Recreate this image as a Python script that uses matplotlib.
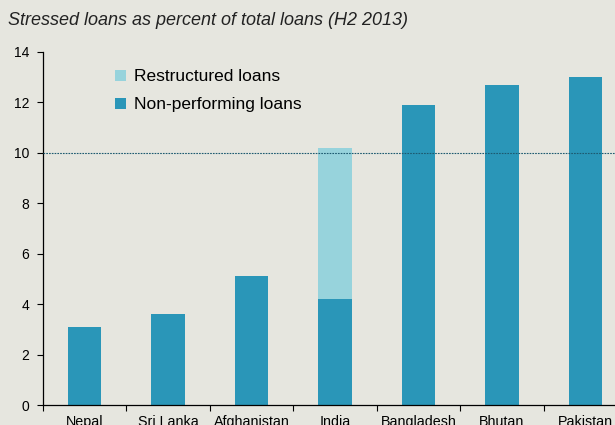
import numpy as np
import matplotlib.pyplot as plt

plt.rcParams['font.family'] = ['Liberation Sans', 'DejaVu Sans']

countries = ["Nepal", "Sri Lanka", "Afghanistan", "India", "Bangladesh", "Bhutan", "Pakistan"]
npl = [3.1, 3.6, 5.1, 4.2, 11.9, 12.7, 13.0]
restructured = [0, 0, 0, 6.0, 0, 0, 0]
threshold = 10

bg = "#e6e6df"
c_npl = "#2a96b8"
c_rest = "#97d3dc"

fig = plt.figure(figsize=(6.15, 4.25), dpi=100, facecolor=bg)
ax = fig.add_axes([0.0699, 0.047, 0.95, 0.831], facecolor=bg)

x = np.arange(len(countries))
ax.bar(x, npl, width=0.4, color=c_npl, label="Non-performing loans", zorder=2)
ax.bar(x, restructured, width=0.4, bottom=npl, color=c_rest, label="Restructured loans", zorder=2)
ax.axhline(threshold, color="#1d5a70", lw=0.8, ls=(0, (1.5, 1)), zorder=3)

ax.set_xlim(-0.5, 6.5)
ax.set_ylim(0, 14)
ax.set_yticks(range(0, 15, 2))
ax.set_xticks(np.arange(-0.5, 7, 1))
ax.set_xticklabels([])
ax.set_xticks(x, minor=True)
ax.set_xticklabels(countries, minor=True, fontsize=10.3)
ax.tick_params(axis='x', which='minor', length=0, pad=7)
ax.tick_params(axis='x', which='major', length=4, direction='out')
ax.tick_params(axis='y', length=4, direction='out', labelsize=10, pad=6)
for s in ["top", "right"]:
    ax.spines[s].set_visible(False)
for s in ["left", "bottom"]:
    ax.spines[s].set_linewidth(0.9)

h, l = ax.get_legend_handles_labels()
ax.legend(h[::-1], l[::-1], loc="upper left", bbox_to_anchor=(0.097, 0.995), frameon=False,
          fontsize=12.5, handlelength=0.6, handleheight=0.6, handletextpad=0.5, labelspacing=0.75)

fig.text(0.013, 0.952, "Stressed loans as percent of total loans (H2 2013)", fontsize=13,
         style="italic", va="center", color="#222222")

fig.savefig("out.png", dpi=100, facecolor=bg)
